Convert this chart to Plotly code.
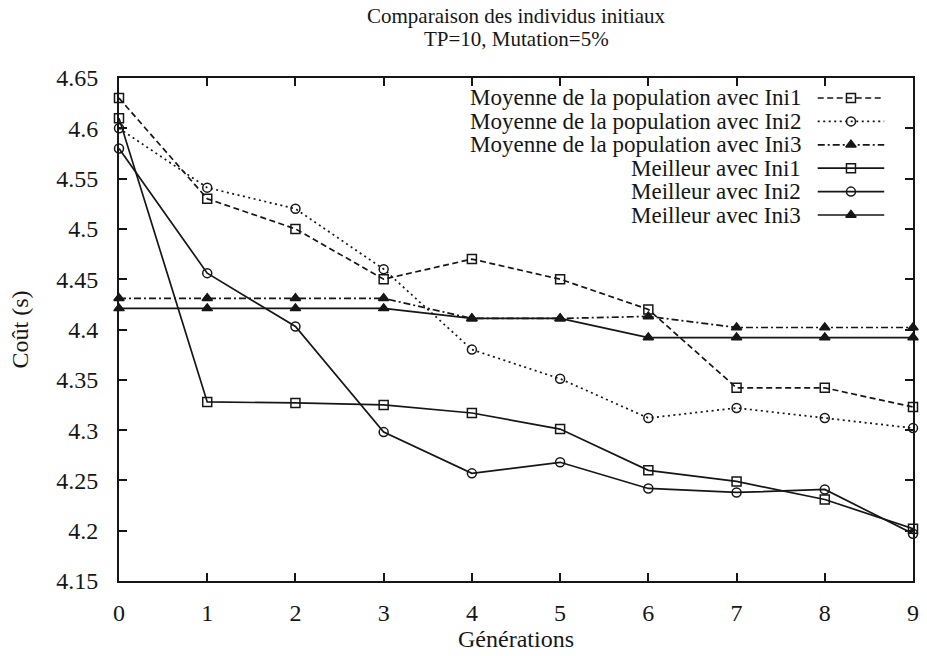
import plotly.graph_objects as go

# ---------------- data ----------------
generations = [0, 1, 2, 3, 4, 5, 6, 7, 8, 9]

moy_ini1 = [4.63, 4.53, 4.50, 4.45, 4.47, 4.45, 4.42, 4.342, 4.342, 4.323]
moy_ini2 = [4.60, 4.541, 4.52, 4.46, 4.38, 4.351, 4.312, 4.322, 4.312, 4.302]
moy_ini3 = [4.431, 4.431, 4.431, 4.431, 4.411, 4.411, 4.413, 4.402, 4.402, 4.402]
best_ini1 = [4.61, 4.328, 4.327, 4.325, 4.317, 4.301, 4.260, 4.249, 4.231, 4.202]
best_ini2 = [4.58, 4.456, 4.403, 4.298, 4.257, 4.268, 4.242, 4.238, 4.241, 4.197]
best_ini3 = [4.421, 4.421, 4.421, 4.421, 4.411, 4.411, 4.392, 4.392, 4.392, 4.392]

series_names = [
    "Moyenne de la population avec Ini1",
    "Moyenne de la population avec Ini2",
    "Moyenne de la population avec Ini3",
    "Meilleur avec Ini1",
    "Meilleur avec Ini2",
    "Meilleur avec Ini3",
]
series_values = [moy_ini1, moy_ini2, moy_ini3, best_ini1, best_ini2, best_ini3]

y_tick_labels = ["4.15", "4.2", "4.25", "4.3", "4.35", "4.4", "4.45",
                 "4.5", "4.55", "4.6", "4.65"]
x_tick_labels = ["0", "1", "2", "3", "4", "5", "6", "7", "8", "9"]

title_lines = ["Comparaison des individus initiaux", "TP=10, Mutation=5%"]
x_title = "Générations"
y_title = "Coût (s)"

# ---------------- styles ----------------
INK = "#161616"
FONT = "Liberation Serif, Times New Roman, serif"
dashes = ["6px,3.5px", "2px,3.5px", "7px,3px,2px,3px", "solid", "solid", "solid"]
symbols = ["square-open", "circle-open", "triangle-up", "square-open", "circle-open", "triangle-up"]
msizes = [9, 9, 9, 9, 9, 9]

W, H = 927, 656
ML, MR, MT, MB = 119, 8, 78, 75
PW, PH = W - ML - MR, H - MT - MB

fig = go.Figure()

for name, vals, d, s, ms in zip(series_names, series_values, dashes, symbols, msizes):
    fig.add_trace(go.Scatter(
        x=generations, y=vals, name=name, mode="lines+markers",
        line=dict(color=INK, width=1.7, dash=d),
        marker=dict(symbol=s, size=ms, color=INK, line=dict(color=INK, width=1.5)),
        showlegend=False, cliponaxis=False,
    ))

# ---------------- gnuplot-style key (text left, sample right) ----------------
def px_x(p):
    return (p - ML) / PW

def px_y(p):
    return (H - MB - p) / PH

row_top = 98.0
row_step = 23.4
text_right = 808
samp_x0, samp_x1 = 823, 890
annotations = []
for i, (name, d, s, ms) in enumerate(zip(series_names, dashes, symbols, msizes)):
    yy = px_y(row_top + i * row_step)
    annotations.append(dict(
        x=px_x(text_right), y=yy, xref="paper", yref="paper", text=name,
        showarrow=False, xanchor="right", yanchor="middle",
        font=dict(family=FONT, size=23, color=INK)))
    fig.add_trace(go.Scatter(
        x=[px_x(samp_x0), px_x(samp_x1)], y=[yy, yy], xaxis="x2", yaxis="y2",
        mode="lines", line=dict(color=INK, width=1.7, dash=d),
        showlegend=False, hoverinfo="skip"))
    fig.add_trace(go.Scatter(
        x=[px_x((samp_x0 + samp_x1) / 2)], y=[yy], xaxis="x2", yaxis="y2",
        mode="markers",
        marker=dict(symbol=s, size=ms, color=INK, line=dict(color=INK, width=1.5)),
        showlegend=False, hoverinfo="skip"))

# title (two lines, gnuplot spacing)
for j, t in enumerate(title_lines):
    annotations.append(dict(
        x=0.5, y=px_y(16 + 23 * j), xref="paper", yref="paper", text=t,
        showarrow=False, xanchor="center", yanchor="middle",
        font=dict(family=FONT, size=21, color=INK)))

axis_common = dict(
    showline=True, linecolor=INK, linewidth=1.7, mirror="ticks",
    ticks="inside", ticklen=8, tickwidth=1.5, tickcolor=INK,
    showgrid=False, zeroline=False,
    tickfont=dict(family=FONT, size=24, color=INK),
)

fig.update_layout(
    width=W, height=H,
    margin=dict(l=ML, r=MR, t=MT, b=MB),
    paper_bgcolor="white", plot_bgcolor="white",
    annotations=annotations,
    xaxis=dict(range=[0, 9], tickvals=generations, ticktext=x_tick_labels,
               ticklabelstandoff=9,
               title=dict(text=x_title, font=dict(family=FONT, size=24, color=INK), standoff=6),
               **axis_common),
    yaxis=dict(range=[4.15, 4.65], tickvals=[float(v) for v in y_tick_labels],
               ticktext=y_tick_labels, ticklabelstandoff=14,
               title=dict(text=y_title, font=dict(family=FONT, size=24, color=INK), standoff=21),
               **axis_common),
    xaxis2=dict(range=[0, 1], overlaying="x", visible=False, fixedrange=True),
    yaxis2=dict(range=[0, 1], overlaying="y", visible=False, fixedrange=True),
    font=dict(family=FONT, color=INK),
)

fig.write_html("out.html")
